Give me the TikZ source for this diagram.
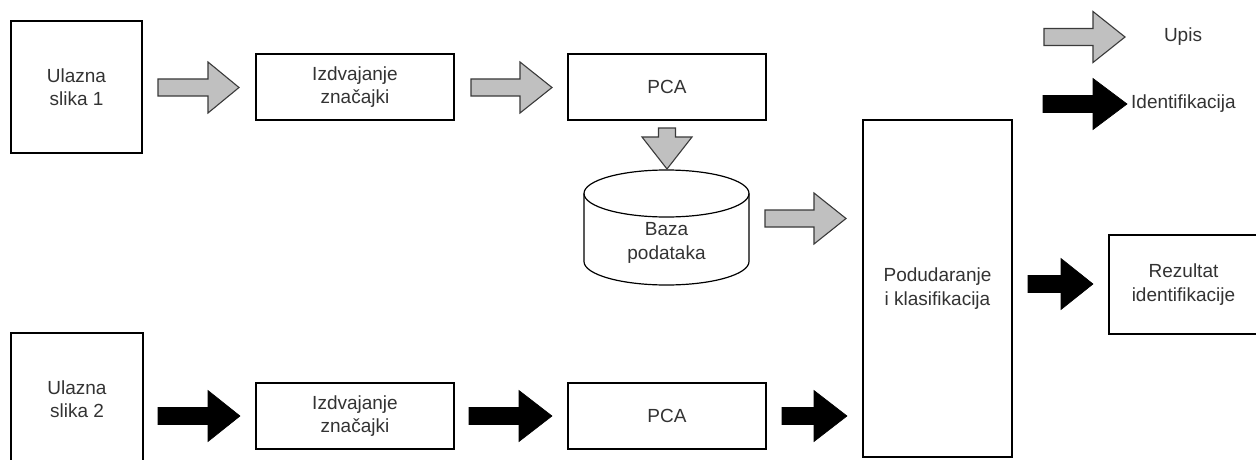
\documentclass[tikz,border=0pt]{standalone}
\usepackage{fontspec}
\setmainfont{Liberation Sans}
\definecolor{txt}{HTML}{333333}
\definecolor{agray}{HTML}{C0C0C0}
\definecolor{aline}{HTML}{3A3A3A}
\tikzset{
  box/.style={draw=black, line width=1.2pt, fill=white, inner sep=0pt},
  lbl/.style={text=txt, align=center, font=\fontsize{19}{23.5}\selectfont, inner sep=0pt},
  grayarrow/.style={fill=agray, draw=aline, line width=1.1pt, line join=miter},
  blackarrow/.style={fill=black, draw=black, line width=0.6pt, line join=miter}
}
% horizontal block arrow: style, tail x, head base x, tip x, centre y
\newcommand\harrow[5]{%
  \path[#1] (#2,#5-8.5) -- (#3,#5-8.5) -- (#3,#5-25.5) -- (#4,#5) -- (#3,#5+25.5)
    -- (#3,#5+8.5) -- (#2,#5+8.5) -- cycle;}
\begin{document}
\begin{tikzpicture}[x=1pt,y=-1pt]
\useasboundingbox (0,0) rectangle (1256,460);
\clip (0,0) rectangle (1256,460);
\fill[white] (0,0) rectangle (1256,460);

% boxes
\node[box, minimum width=131pt, minimum height=132pt] (in1) at (76.5,87) {};
\node[lbl] (in1t) at (in1.center) {Ulazna\\slika 1};
\node[box, minimum width=198pt, minimum height=66pt] (fe1) at (355,87) {};
\node[lbl] (fe1t) at (fe1.center) {Izdvajanje\\značajki};
\node[box, minimum width=198pt, minimum height=66pt] (pca1) at (667,87) {};
\node[lbl] (pca1t) at (pca1.center) {PCA};

\node[box, minimum width=132pt, minimum height=132pt] (in2) at (77,399) {};
\node[lbl] (in2t) at (in2.center) {Ulazna\\slika 2};
\node[box, minimum width=198pt, minimum height=66pt] (fe2) at (355,416) {};
\node[lbl] (fe2t) at (fe2.center) {Izdvajanje\\značajki};
\node[box, minimum width=198pt, minimum height=66pt] (pca2) at (667,416) {};
\node[lbl] (pca2t) at (pca2.center) {PCA};

\node[box, minimum width=149pt, minimum height=337pt] (pod) at (937.5,288.5) {};
\node[lbl] (podt) at (pod.center) {Podudaranje\\i klasifikacija};
\node[box, minimum width=149pt, minimum height=99pt] (rez) at (1183.5,284.5) {};
\node[lbl] (rezt) at (rez.center) {Rezultat\\identifikacije};

% database cylinder
\draw[box] (584,193.5) -- (584,261.5)
  .. controls (584,274.5) and (620.9,285) .. (666.5,285)
  .. controls (712.1,285) and (749,274.5) .. (749,261.5)
  -- (749,193.5)
  .. controls (749,180.5) and (712.1,170) .. (666.5,170)
  .. controls (620.9,170) and (584,180.5) .. (584,193.5) -- cycle;
\draw[line width=1.2pt] (584,193.5)
  .. controls (584,206.5) and (620.9,217) .. (666.5,217)
  .. controls (712.1,217) and (749,206.5) .. (749,193.5);
\node[lbl] (db) at (666.5,243) {Baza\\podataka};

% grey (enrolment) arrows
\harrow{grayarrow}{158}{208}{239}{87.5}
\harrow{grayarrow}{471}{520}{552}{87.5}
\harrow{grayarrow}{765}{814}{846}{218.5}
\path[grayarrow] (658.5,128) -- (675.5,128) -- (675.5,137) -- (692,137) -- (667,169)
  -- (642,137) -- (658.5,137) -- cycle;

% black (identification) arrows
\harrow{blackarrow}{158}{208}{240}{416}
\harrow{blackarrow}{469}{519}{552}{416}
\harrow{blackarrow}{782}{814}{847}{416}
\harrow{blackarrow}{1028}{1061}{1093}{284}

% legend
\harrow{grayarrow}{1044}{1093}{1125}{37}
\node[lbl] (upis) at (1183,37) {Upis};
\harrow{blackarrow}{1043}{1093}{1127}{104}
\node[lbl, anchor=west] (ident) at (1131,104) {Identifikacija};
\end{tikzpicture}
\end{document}
